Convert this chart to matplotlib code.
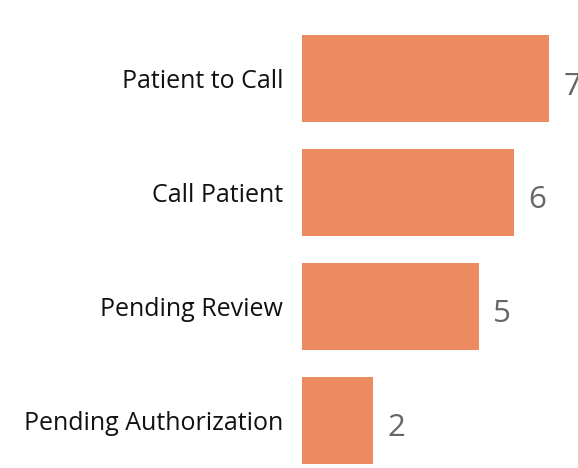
import matplotlib.pyplot as plt

categories = ["Patient to Call", "Call Patient", "Pending Review", "Pending Authorization"]
values = [7, 6, 5, 2]

plt.rcParams['font.family'] = ['Open Sans', 'DejaVu Sans']

fig = plt.figure(figsize=(5.78, 4.68), dpi=100)
ax = fig.add_axes([302 / 578, 0, 276 / 578, 1])

pos = list(range(len(categories)))
ax.barh(pos, values, height=0.76, color="#EB8B5F")
ax.set_xlim(0, 276 / 35.3)
ax.set_ylim(3.417, -0.689)

ax.set_yticks(pos)
ax.set_yticklabels(categories, fontsize=18, color="#111111")
for lbl in ax.get_yticklabels():
    lbl.set_va('center_baseline')
ax.tick_params(axis='y', length=0, pad=13.5)
ax.set_xticks([])
for s in ax.spines.values():
    s.set_visible(False)

for p, v in zip(pos, values):
    ax.text(v + 0.42, p + 0.07, str(v), va='center', ha='left', fontsize=22.5, color="#666666")

fig.savefig("out.png", dpi=100)
